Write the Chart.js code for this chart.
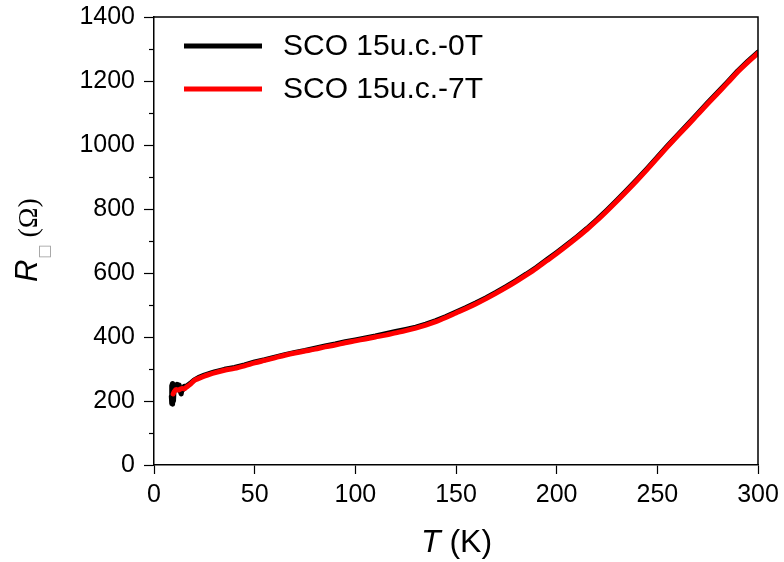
<!DOCTYPE html>
<html>
<head>
<meta charset="utf-8">
<script src="https://cdn.jsdelivr.net/npm/chart.js@4.4.1/dist/chart.umd.min.js"></script>
<style>
  html, body { margin: 0; padding: 0; background: #fff; }
  #wrap { width: 784px; height: 562px; position: relative; }
</style>
</head>
<body>
<div id="wrap"><canvas id="rtChart" width="784" height="562"></canvas></div>
<script>
// sheet resistance vs temperature
var SERIES_LABELS = ["SCO 15u.c.-0T", "SCO 15u.c.-7T"];
var SERIES_COLORS = ["#000000", "#ff0000"];

var T_0T = [8.6, 8.7, 8.8, 8.9, 9.0, 9.1, 9.2, 9.3, 9.4, 9.5, 9.6, 9.8, 10, 10.5, 11, 11.5, 12, 12.5, 13, 13.5, 14, 14.5, 15, 16, 18, 20, 22, 25, 28, 30, 35, 40, 45, 50, 55, 60, 65, 70, 75, 80, 85, 90, 95, 100, 105, 110, 115, 120, 125, 130, 135, 140, 145, 150, 155, 160, 165, 170, 175, 180, 185, 190, 195, 200, 205, 210, 215, 220, 225, 230, 235, 240, 245, 250, 255, 260, 265, 270, 275, 280, 285, 290, 295, 300];
var R_0T = [215, 192, 248, 196, 252, 190, 255, 198, 250, 205, 245, 200, 240, 250, 241, 252, 244, 250, 231, 222, 240, 236, 246, 246, 255, 266, 273, 281, 287, 291, 299, 305, 313, 322, 329, 337, 345, 352, 358, 365, 372, 378, 385, 391, 397, 403, 410, 417, 424, 431, 440, 451, 464, 478, 492, 507, 523, 540, 558, 577, 597, 618, 641, 664, 688, 713, 739, 767, 797, 828, 860, 893, 927, 962, 997, 1031, 1064, 1098, 1132, 1165, 1198, 1232, 1262, 1290];

var T_7T = [9.5, 10, 11, 12, 13, 14, 15, 16, 18, 20, 22, 25, 28, 30, 35, 40, 45, 50, 55, 60, 65, 70, 75, 80, 85, 90, 95, 100, 105, 110, 115, 120, 125, 130, 135, 140, 145, 150, 155, 160, 165, 170, 175, 180, 185, 190, 195, 200, 205, 210, 215, 220, 225, 230, 235, 240, 245, 250, 255, 260, 265, 270, 275, 280, 285, 290, 295, 300];
var R_7T = [222, 229, 236, 234, 237, 239, 238, 243, 252, 264, 270, 278, 284, 288, 296, 302, 310, 319, 327, 335, 343, 350, 356, 362, 369, 375, 382, 388, 394, 400, 406, 413, 420, 428, 437, 448, 461, 475, 489, 504, 520, 537, 555, 574, 594, 615, 638, 661, 685, 710, 736, 764, 794, 825, 857, 890, 924, 959, 994, 1028, 1061, 1095, 1129, 1162, 1195, 1229, 1259, 1287];

var X_TICKS = [0, 50, 100, 150, 200, 250, 300];
var Y_TICKS = [0, 200, 400, 600, 800, 1000, 1200, 1400];
var Y_MINOR = [100, 300, 500, 700, 900, 1100, 1300];

function toPoints(xs, ys) {
    var pts = [];
    xs.forEach((x, i) => pts.push({x: x, y: ys[i]}));
    return pts;
}

// frame, minor ticks, legend and mixed-font axis titles
var decorPlugin = {
    id: 'decor',
    afterDraw(chart) {
        var ctx = chart.ctx;
        var area = chart.chartArea;
        var yScale = chart.scales.y;
        ctx.save();
        ctx.strokeStyle = '#000';
        ctx.lineWidth = 1.5;
        ctx.beginPath();
        ctx.moveTo(area.left, area.top);
        ctx.lineTo(area.right, area.top);
        ctx.lineTo(area.right, area.bottom);
        ctx.stroke();

        // minor y ticks
        ctx.lineWidth = 1.2;
        Y_MINOR.forEach(v => {
            var py = Math.round(yScale.getPixelForValue(v)) + 0.5;
            ctx.beginPath();
            ctx.moveTo(area.left - 5, py);
            ctx.lineTo(area.left, py);
            ctx.stroke();
        });

        // legend
        ctx.font = '30px "Liberation Sans", Arial, sans-serif';
        ctx.textBaseline = 'middle';
        ctx.textAlign = 'left';
        var rowY = [46, 89];
        chart.data.datasets.forEach((ds, i) => {
            ctx.strokeStyle = ds.borderColor;
            ctx.lineWidth = 5;
            ctx.beginPath();
            ctx.moveTo(184, rowY[i]);
            ctx.lineTo(262, rowY[i]);
            ctx.stroke();
            ctx.fillStyle = '#000';
            ctx.fillText(ds.label, 283, rowY[i] + 1);
        });

        // x title: T (K)
        ctx.textBaseline = 'alphabetic';
        ctx.fillStyle = '#000';
        ctx.font = 'italic 32px "Liberation Sans", Arial, sans-serif';
        ctx.fillText('T', 421, 552);
        var tw = ctx.measureText('T').width;
        ctx.font = '32px "Liberation Sans", Arial, sans-serif';
        ctx.fillText(' (K)', 421 + tw, 552);

        // y title: R□ (Ω)
        ctx.translate(37, 282);
        ctx.rotate(-Math.PI / 2);
        ctx.font = 'italic 31px "Liberation Sans", Arial, sans-serif';
        ctx.fillText('R', 0, 0);
        var rw = ctx.measureText('R').width;
        ctx.fillStyle = '#9a9a9a';
        ctx.font = '15px "DejaVu Sans", sans-serif';
        ctx.fillText('\u25A1', rw + 1, 12);
        ctx.fillStyle = '#000';
        ctx.font = '28px "Liberation Serif", "Times New Roman", serif';
        ctx.fillText('(\u03A9)', rw + 22, 0);
        ctx.restore();
    }
};

var chart = new Chart(document.getElementById('rtChart'), {
    type: 'line',
    data: {
        datasets: [{
            label: SERIES_LABELS[0],
            data: toPoints(T_0T, R_0T),
            borderColor: SERIES_COLORS[0],
            borderWidth: 5,
            borderJoinStyle: 'round',
            borderCapStyle: 'round',
            pointRadius: 0,
            tension: 0,
            order: 1
        }, {
            label: SERIES_LABELS[1],
            data: toPoints(T_7T, R_7T),
            borderColor: SERIES_COLORS[1],
            borderWidth: 5,
            borderJoinStyle: 'round',
            borderCapStyle: 'round',
            pointRadius: 0,
            cubicInterpolationMode: 'monotone',
            order: 0
        }]
    },
    options: {
        responsive: false,
        animation: false,
        events: [],
        layout: { padding: { left: 0, right: 26, top: 17, bottom: 0 } },
        plugins: {
            legend: { display: false },
            tooltip: { enabled: false }
        },
        scales: {
            x: {
                type: 'linear',
                min: 0,
                max: 300,
                afterBuildTicks: s => { s.ticks = X_TICKS.map(v => ({value: v})); },
                afterFit: s => { s.height = 97; s.paddingLeft = 0; s.paddingRight = 0; },
                border: { display: true, color: '#000', width: 1.5 },
                grid: { drawOnChartArea: false, drawTicks: true, tickLength: 9, tickColor: '#000', tickWidth: 1.2 },
                ticks: {
                    color: '#000',
                    padding: 6,
                    maxRotation: 0,
                    callback: v => String(v),
                    font: { family: '"Liberation Sans", Arial, sans-serif', size: 25 }
                }
            },
            y: {
                type: 'linear',
                min: 0,
                max: 1400,
                afterBuildTicks: s => { s.ticks = Y_TICKS.map(v => ({value: v})); },
                afterFit: s => { s.width = 154; s.paddingTop = 0; s.paddingBottom = 0; },
                border: { display: true, color: '#000', width: 1.5 },
                grid: { drawOnChartArea: false, drawTicks: true, tickLength: 10, tickColor: '#000', tickWidth: 1.2 },
                ticks: {
                    color: '#000',
                    padding: 9,
                    callback: v => String(v),
                    font: { family: '"Liberation Sans", Arial, sans-serif', size: 25 }
                }
            }
        }
    },
    plugins: [decorPlugin]
});
</script>
</body>
</html>
